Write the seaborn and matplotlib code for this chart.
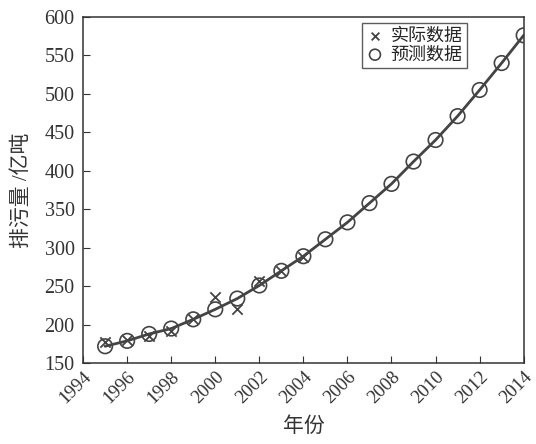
import numpy as np
import pandas as pd
import seaborn as sns
import matplotlib.pyplot as plt

# data
years_pred = list(range(1995, 2015))
pred = [172, 179, 188, 195, 207, 220, 234, 251, 270, 289,
        311, 333, 358, 383, 412, 440, 471, 505, 540, 576]
years_act = list(range(1995, 2005))
actual = [177, 180, 185, 192, 207, 236, 221, 257, 270, 288]
xticks = list(range(1994, 2015, 2))
yticks = list(range(150, 601, 50))

sns.set_style("ticks")
plt.rcParams['font.family'] = ['Liberation Serif', 'Noto Sans CJK SC']
plt.rcParams['axes.unicode_minus'] = False

c = "#444444"
tc = "#333333"
fig = plt.figure(figsize=(5.36, 4.44), dpi=100)
ax = fig.add_axes([0.155, 0.182, 0.822, 0.78])

df_pred = pd.DataFrame({"year": years_pred, "val": pred})
df_act = pd.DataFrame({"year": years_act, "val": actual})

sns.lineplot(data=df_pred, x="year", y="val", color=c, linewidth=2, ax=ax, zorder=2)
sns.scatterplot(data=df_act, x="year", y="val", marker="x", s=55, color=c,
                linewidth=1.3, ax=ax, zorder=3, label="实际数据")
sns.scatterplot(data=df_pred, x="year", y="val", marker="o", s=110,
                facecolor="none", edgecolor=c, linewidth=1.2, ax=ax, zorder=3,
                label="预测数据")

ax.set_xlim(1994, 2014)
ax.set_ylim(150, 600)
ax.set_xticks(xticks)
ax.set_yticks(yticks)
ax.set_xticklabels([str(t) for t in xticks], rotation=45, ha="right",
                   rotation_mode="anchor", fontsize=13.5, color=tc)
ax.set_yticklabels([str(t) for t in yticks], fontsize=14.5, color=tc)
ax.tick_params(direction="in", length=5, color=tc)
ax.tick_params(axis="y", pad=6)
for s in ax.spines.values():
    s.set_visible(True)
    s.set_color(tc)
    s.set_linewidth(1.1)

ax.set_xlabel("年份", fontsize=15, color=tc)
ax.set_ylabel("排污量 /亿吨", fontsize=15, color=tc)
ax.xaxis.set_label_coords(0.5, -0.155)
ax.yaxis.set_label_coords(-0.115, 0.5)

leg = ax.legend(loc="upper right", bbox_to_anchor=(0.871, 0.982), frameon=True,
                fancybox=False, edgecolor=tc, fontsize=13, borderaxespad=0,
                handletextpad=0.4, borderpad=0.25, labelspacing=0.1,
                handlelength=0.9, markerscale=0.75)
leg.get_frame().set_linewidth(1.0)

fig.savefig("out.png", dpi=100)
